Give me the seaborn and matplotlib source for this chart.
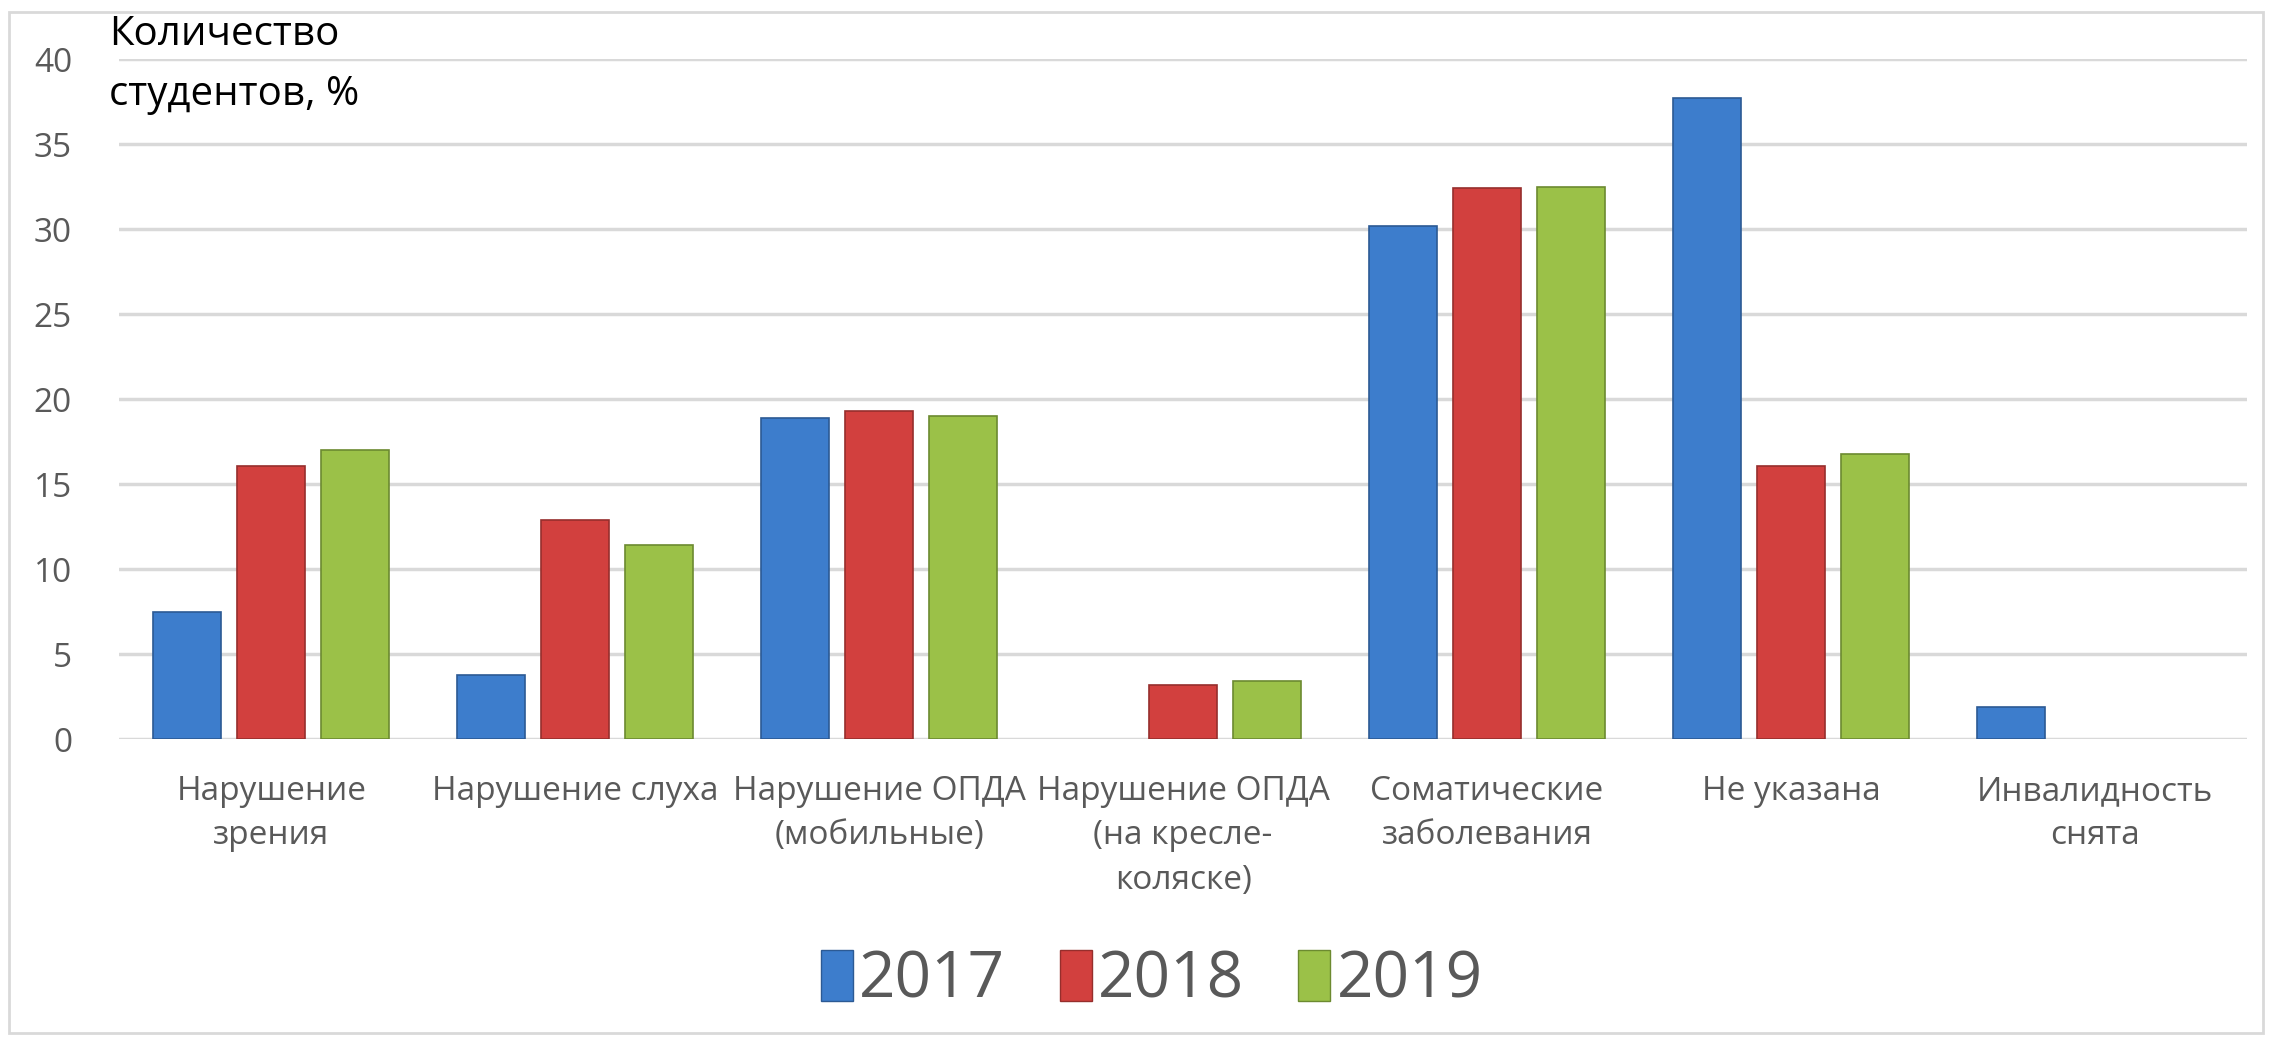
import numpy as np
import pandas as pd
import matplotlib.pyplot as plt
import matplotlib.patches as mpatches
import seaborn as sns

# данные
categories = ["Нарушение\nзрения", "Нарушение слуха", "Нарушение ОПДА\n(мобильные)",
              "Нарушение ОПДА\n(на кресле-\nколяске)", "Соматические\nзаболевания",
              "Не указана", "Инвалидность\nснята"]
years = ["2017", "2018", "2019"]
v2017 = [7.5, 3.8, 18.9, np.nan, 30.2, 37.7, 1.9]
v2018 = [16.1, 12.9, 19.3, 3.2, 32.4, 16.1, np.nan]
v2019 = [17.0, 11.4, 19.0, 3.4, 32.5, 16.8, np.nan]
yticks = [0, 5, 10, 15, 20, 25, 30, 35, 40]

df = pd.DataFrame({
    "cat": categories * 3,
    "year": [y for y in years for _ in categories],
    "val": v2017 + v2018 + v2019,
}).dropna()

colors = ["#3D7DCC", "#D2403E", "#9BC148"]
edges = ["#2C5A94", "#962E2C", "#6C8A30"]

sns.set_theme(style="white")
plt.rcParams["font.family"] = ["Open Sans", "DejaVu Sans"]

fig = plt.figure(figsize=(22.72, 10.41), dpi=100)
ax = fig.add_axes([0.0525, 0.290, 0.9365, 0.653])

sns.barplot(data=df, x="cat", y="val", hue="year", order=categories, hue_order=years,
            palette=colors, saturation=1, width=0.83, gap=0.19, ax=ax, legend=False,
            errorbar=None, linewidth=1.2)

for cont, ec in zip(ax.containers, edges):
    for bar in cont:
        bar.set_edgecolor(ec)

ax.set_ylim(0, 40)
ax.set_xlim(-0.5, len(categories) - 0.5)
ax.set_yticks(yticks)
ax.yaxis.grid(True, color="#D9D9D9", linewidth=2.5)
ax.set_axisbelow(True)
for s in ax.spines.values():
    s.set_visible(False)
ax.tick_params(axis="both", length=0, colors="#595959", labelsize=24)
ax.tick_params(axis="y", pad=34)
ax.tick_params(axis="x", pad=26)
ax.set_xlabel("")
ax.set_ylabel("")
for lbl in ax.get_xticklabels():
    lbl.set_linespacing(1.45)

fig.text(0.048, 0.986, "Количество\nстудентов, %", fontsize=29, color="black",
         va="top", ha="left", linespacing=1.65)

handles = [mpatches.Patch(facecolor=c, edgecolor=e, label=y)
           for c, e, y in zip(colors, edges, years)]
fig.legend(handles=handles, loc="center", bbox_to_anchor=(0.507, 0.058), ncol=3,
           frameon=False, fontsize=46, labelcolor="#595959", handlelength=0.5,
           handleheight=0.85, handletextpad=0.1, columnspacing=0.85)

fig.patches.append(mpatches.Rectangle((0.004, 0.008), 0.992, 0.98, transform=fig.transFigure,
                                      fill=False, edgecolor="#D9D9D9", linewidth=2))

fig.savefig("out.png", dpi=100)
